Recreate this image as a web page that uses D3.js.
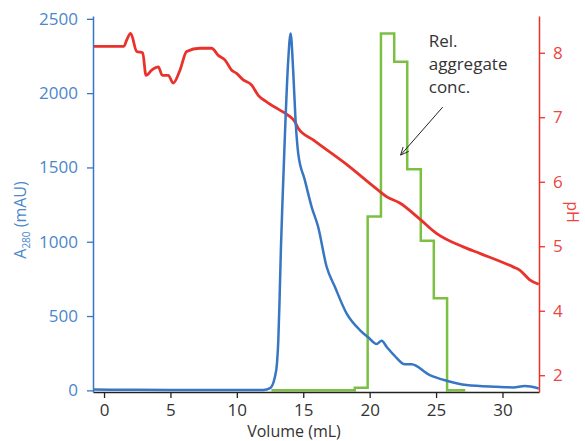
<!DOCTYPE html>
<html>
<head>
<meta charset="utf-8">
<script src="https://cdn.jsdelivr.net/npm/d3@7"></script>
<style>
  body { margin: 0; background: #fff; }
  text { font-family: "Open Sans", "Noto Sans", sans-serif; }
</style>
</head>
<body>
<div id="chart"></div>
<script>
// A280 trace (volume mL, mAU)
var uvVol = [-0.83, 2, 5, 8, 10, 12.0, 12.5, 12.87, 13.02, 13.12, 13.22, 13.32, 13.44, 13.62, 13.87, 14.05, 14.24, 14.42, 14.62, 15.12, 15.63, 16.12, 16.76, 17.38, 18.26, 19.26, 19.89, 20.52, 20.9, 21.3, 21.9, 22.65, 23.15, 24.53, 25.79, 27.29, 29.55, 30.8, 31.68, 32.73];
var uvVal = [5, 4, 3, 3, 2, 3, 15, 92, 180, 330, 620, 960, 1280, 1720, 2223, 2402, 2155, 1819, 1595, 1415, 1235, 1101, 832, 697, 518, 406, 357, 312, 334, 290, 231, 175, 175, 103, 65, 36, 24, 20, 29, 13];

// pH trace (volume mL, pH)
var phVol = [-0.83, 1.5, 1.71, 2.01, 2.46, 2.91, 3.16, 3.59, 4.09, 4.39, 4.84, 5.21, 5.72, 6.22, 7.22, 8.1, 8.6, 9.1, 9.61, 9.98, 10.48, 11.11, 11.61, 12.24, 13.24, 13.87, 14.37, 14.62, 15.75, 18.26, 20.52, 21.27, 22.27, 23.78, 25.03, 27.04, 28.29, 30.8, 31.3, 32.05, 32.73];
var phVal = [8.1, 8.1, 8.2, 8.3, 8.02, 8.0, 7.65, 7.73, 7.78, 7.65, 7.65, 7.53, 7.73, 8.02, 8.07, 8.07, 7.96, 7.89, 7.73, 7.68, 7.58, 7.5, 7.34, 7.24, 7.11, 7.03, 6.93, 6.83, 6.65, 6.27, 5.89, 5.77, 5.67, 5.42, 5.2, 4.99, 4.89, 4.68, 4.63, 4.48, 4.41];

// relative aggregate concentration, fraction steps (on A280 scale)
var aggVol = [12.6, 18.88, 19.85, 20.85, 21.85, 22.83, 23.85, 24.83, 25.83, 27.2];
var aggVal = [0, 17, 1170, 2402, 2211, 1487, 1007, 619, 0, 0];

var xTicks = [0, 5, 10, 15, 20, 25, 30];
var uvTicks = [0, 500, 1000, 1500, 2000, 2500];
var phTicks = [8, 7, 6, 5, 4, 3];
var phTickLabels = ["8", "7", "6", "5", "4", "2"];

var w = 585, h = 441;
var margin = {top: 16, right: 46, bottom: 49, left: 93};

var blue = "#3776c2", blueText = "#4a87cb";
var red = "#e8322b", redText = "#ec463f";
var green = "#7cc043";

var svg = d3.select("#chart").append("svg")
    .attr("width", w)
    .attr("height", h);

var x = d3.scaleLinear().domain([-0.83, 32.75]).range([margin.left, w - margin.right]);
var yUV = d3.scaleLinear().domain([-11, 2519]).range([h - margin.bottom, margin.top]);
var yPH = d3.scaleLinear().domain([2.74, 8.57]).range([h - margin.bottom, margin.top]);

var uvData = uvVol.map((v, i) => [v, uvVal[i]]);
var phData = phVol.map((v, i) => [v, phVal[i]]);
var aggData = aggVol.map((v, i) => [v, aggVal[i]]);

// lines
svg.append("path")
    .datum(aggData)
    .attr("fill", "none")
    .attr("stroke", green)
    .attr("stroke-width", 2.5)
    .attr("d", d3.line().curve(d3.curveStepAfter).x(d => x(d[0])).y(d => yUV(d[1])));

svg.append("path")
    .datum(phData)
    .attr("fill", "none")
    .attr("stroke", red)
    .attr("stroke-width", 2.8)
    .attr("stroke-linejoin", "round")
    .attr("d", d3.line().curve(d3.curveMonotoneX).x(d => x(d[0])).y(d => yPH(d[1])));

svg.append("path")
    .datum(uvData)
    .attr("fill", "none")
    .attr("stroke", blue)
    .attr("stroke-width", 2.5)
    .attr("stroke-linejoin", "round")
    .attr("d", d3.line().curve(d3.curveMonotoneX).x(d => x(d[0])).y(d => yUV(d[1])));

// axes
var gx = svg.append("g")
    .attr("transform", "translate(0," + (h - margin.bottom) + ")")
    .call(d3.axisBottom(x).tickValues(xTicks).tickSize(6).tickPadding(6).tickSizeOuter(0));
gx.select(".domain").attr("stroke", "#222").attr("stroke-width", 1.5);
gx.selectAll(".tick line").attr("stroke", "#222").attr("stroke-width", 1.3);
gx.selectAll(".tick text").attr("fill", "#333").attr("font-size", 17);

var gl = svg.append("g")
    .attr("transform", "translate(" + margin.left + ",0)")
    .call(d3.axisLeft(yUV).tickValues(uvTicks).tickFormat(d3.format("d"))
        .tickSize(6).tickPadding(9).tickSizeOuter(0));
gl.select(".domain").attr("stroke", blue).attr("stroke-width", 1.5);
gl.selectAll(".tick line").attr("stroke", blue).attr("stroke-width", 1.3);
gl.selectAll(".tick text").attr("fill", blueText).attr("font-size", 17);

var gr = svg.append("g")
    .attr("transform", "translate(" + (w - margin.right) + ",0)")
    .call(d3.axisRight(yPH).tickValues(phTicks).tickSize(6).tickPadding(8).tickSizeOuter(0)
        .tickFormat((d, i) => phTickLabels[i]));
gr.select(".domain").attr("stroke", red).attr("stroke-width", 1.5);
gr.selectAll(".tick line").attr("stroke", red).attr("stroke-width", 1.3);
gr.selectAll(".tick text").attr("fill", redText).attr("font-size", 17);

// axis titles
svg.append("text")
    .attr("x", (margin.left + w - margin.right) / 2 - 22)
    .attr("y", h - 4)
    .attr("text-anchor", "middle")
    .attr("font-size", 16)
    .attr("fill", "#333")
    .text("Volume (mL)");

var yt = svg.append("text")
    .attr("transform", "translate(26,220) rotate(-90)")
    .attr("text-anchor", "middle")
    .attr("font-size", 16)
    .attr("fill", blueText);
yt.append("tspan").text("A");
yt.append("tspan").attr("font-size", 10).attr("dy", 4).text("280");
yt.append("tspan").attr("dy", -4).text(" (mAU)");

svg.append("text")
    .attr("transform", "translate(567,212) rotate(90)")
    .attr("text-anchor", "middle")
    .attr("font-size", 16)
    .attr("fill", redText)
    .text("pH");

// annotation
var note = svg.append("text")
    .attr("x", x(24.45))
    .attr("y", yUV(2313))
    .attr("font-size", 17)
    .attr("fill", "#333");
["Rel.", "aggregate", "conc."].forEach((t, i) => {
    note.append("tspan").attr("x", x(24.45)).attr("dy", i ? 23.3 : 0).text(t);
});

svg.append("defs").append("marker")
    .attr("id", "arr")
    .attr("viewBox", "0 0 10 10")
    .attr("refX", 9).attr("refY", 5)
    .attr("markerWidth", 9).attr("markerHeight", 9)
    .attr("orient", "auto")
    .append("path")
    .attr("d", "M0,1 L9,5 L0,9")
    .attr("fill", "none")
    .attr("stroke", "#222")
    .attr("stroke-width", 1);

svg.append("line")
    .attr("x1", x(25.5)).attr("y1", yUV(1906))
    .attr("x2", x(22.33)).attr("y2", yUV(1583))
    .attr("stroke", "#222")
    .attr("stroke-width", 1)
    .attr("marker-end", "url(#arr)");
</script>
</body>
</html>
